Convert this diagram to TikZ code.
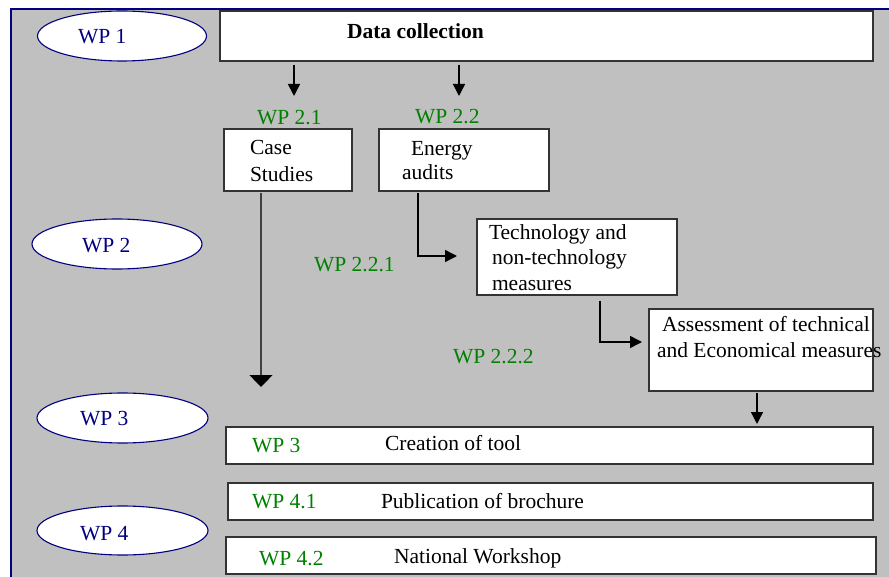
\documentclass[tikz,border=0pt]{standalone}
\usepackage{fontspec}
\setmainfont{Liberation Serif}
\usetikzlibrary{shapes.geometric,arrows.meta,calc}
\definecolor{bggray}{HTML}{C0C0C0}
\definecolor{navyc}{HTML}{000080}
\definecolor{wpgreen}{HTML}{008000}
\definecolor{edgec}{HTML}{333333}
\begin{document}
\begin{tikzpicture}[x=1pt,y=-1pt,
  font=\fontsize{21.5}{26}\selectfont,
  box/.style={draw=edgec, fill=white, line width=1.3pt, inner sep=0pt, outer sep=0pt, anchor=north west},
  wpell/.style={ellipse, draw=navyc, fill=white, line width=1.1pt, inner sep=0pt},
  txt/.style={inner sep=0pt, outer sep=0pt, anchor=base west},
  navytxt/.style={txt, text=navyc},
  greentxt/.style={txt, text=wpgreen},
  conn/.style={line width=1.4pt, draw=black},
  tipS/.style={-{Triangle[length=12pt,width=12pt,color=black]}},
  tipL/.style={-{Triangle[length=12pt,width=23pt,color=black]}}
]
\useasboundingbox (0,0) rectangle (889,577);
% background panel
\fill[bggray] (11,9) rectangle (889,577);
\draw[navyc, line width=2pt] (11,577) -- (11,9) -- (889,9);

% ellipses
\node[wpell, minimum width=169pt, minimum height=50pt] (e1) at (122,36) {};
\node[wpell, minimum width=170pt, minimum height=50pt] (e2) at (117,244) {};
\node[wpell, minimum width=171pt, minimum height=50pt] (e3) at (122.5,418) {};
\node[wpell, minimum width=171pt, minimum height=49pt] (e4) at (122.5,530.5) {};
\node[navytxt] (e1t) at (78,44) {WP 1};
\node[navytxt] (e2t) at (82,253) {WP 2};
\node[navytxt] (e3t) at (80,425) {WP 3};
\node[navytxt] (e4t) at (80,540) {WP 4};

% boxes
\node[box, minimum width=653pt, minimum height=50pt, line width=1.8pt] (dc) at (220,11) {};
\node[box, minimum width=128pt, minimum height=62pt] (cs) at (224,129) {};
\node[box, minimum width=170pt, minimum height=62pt] (ea) at (379,129) {};
\node[box, minimum width=200pt, minimum height=76pt] (tm) at (477,219) {};
\node[box, minimum width=224pt, minimum height=82pt] (as) at (649,309) {};
\node[box, minimum width=647pt, minimum height=37pt] (ct) at (226,427) {};
\node[box, minimum width=645pt, minimum height=37pt] (pb) at (228,483) {};
\node[box, minimum width=650pt, minimum height=37pt] (nw) at (226,537) {};

% box texts
\node[txt, font=\fontsize{21.5}{26}\selectfont\bfseries] (dct) at (347,39) {Data collection};
\node[txt] (cst1) at (250,155) {Case};
\node[txt] (cst2) at (250,182) {Studies};
\node[txt] (eat1) at (411,156) {Energy};
\node[txt] (eat2) at (402,180) {audits};
\node[txt] (tmt1) at (489,240) {Technology and};
\node[txt] (tmt2) at (492,265) {non-technology};
\node[txt] (tmt3) at (492,291) {measures};
\node[txt] (ast1) at (662,332) {Assessment of technical};
\node[txt] (ast2) at (657,357) {and Economical measures};
\node[txt] (ctt) at (385,450) {Creation of tool};
\node[txt] (pbt) at (381,508) {Publication of brochure};
\node[txt] (nwt) at (394,563) {National Workshop};

% green labels
\node[greentxt] (g21) at (257,125) {WP 2.1};
\node[greentxt] (g22) at (415,124) {WP 2.2};
\node[greentxt] (g221) at (314,272) {WP 2.2.1};
\node[greentxt] (g222) at (453,363) {WP 2.2.2};
\node[greentxt] (g3) at (252,452) {WP 3};
\node[greentxt] (g41) at (252,508) {WP 4.1};
\node[greentxt] (g42) at (259,565) {WP 4.2};

% connector end points
\coordinate (a1) at (294,96);
\coordinate (a2) at (459,96);
\coordinate (a3) at (261,387);
\coordinate (a4) at (418,256);
\coordinate (a5) at (600,342);
\coordinate (a6) at (757,424);

% connectors
\draw[conn, tipS] ($(dc.south -| a1)+(0,4)$) -- (a1);
\draw[conn, tipS] ($(dc.south -| a2)+(0,4)$) -- (a2);
\draw[conn, line width=1.2pt, draw=black!75, tipL] ($(cs.south -| a3)+(0,2)$) -- (a3);
\draw[conn, tipS] ($(ea.south -| a4)+(0,2)$) -- (a4) -- ($(tm.west |- a4)+(-20,0)$);
\draw[conn, tipS] ($(tm.south -| a5)+(0,6)$) -- (a5) -- ($(as.west |- a5)+(-7,0)$);
\draw[conn, tipS] ($(as.south -| a6)+(0,2)$) -- (a6);
\end{tikzpicture}
\end{document}
